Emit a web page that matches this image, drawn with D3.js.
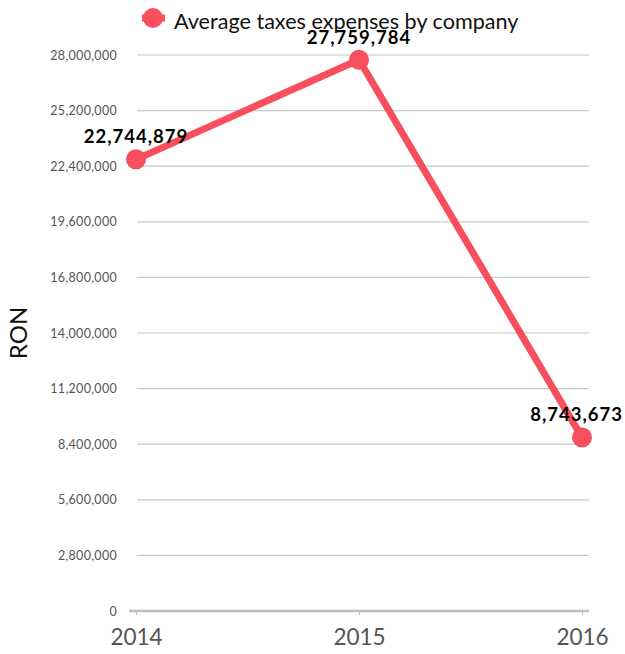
<!DOCTYPE html>
<html><head><meta charset="utf-8">
<script src="https://cdn.jsdelivr.net/npm/d3@7"></script>
<style>body{margin:0;background:#fff}svg{display:block}</style>
</head><body>
<svg id="c" width="625" height="654"></svg>
<script>
const years = ["2014", "2015", "2016"];
const values = [22744879, 27759784, 8743673];
const yTicks = [0, 2800000, 5600000, 8400000, 11200000, 14000000, 16800000, 19600000, 22400000, 25200000, 28000000];
const seriesName = "Average taxes expenses by company";
const yTitle = "RON";

const red = "#f74f5d";
const font = "Lato, 'Open Sans', sans-serif";
const svg = d3.select("#c");
const W = 625;

const x = d3.scalePoint().domain(years).range([136, 582]);
const y = d3.scaleLinear().domain([0, 28000000]).range([611, 55]);
const fmt = d3.format(",");

// grid
svg.append("g").selectAll("line").data(yTicks.filter(d => d > 0)).join("line")
  .attr("x1", 137).attr("x2", 589)
  .attr("y1", d => y(d)).attr("y2", d => y(d))
  .attr("stroke", "#c8c8c8").attr("stroke-width", 1.2);

// y axis labels
const ya = svg.append("g").attr("transform", "translate(129,0)")
  .call(d3.axisLeft(y).tickValues(yTicks).tickFormat(fmt).tickSize(0).tickPadding(12));
ya.select(".domain").remove();
ya.selectAll("text").attr("font-family", font).attr("font-size", 12.5)
  .attr("letter-spacing", 0.3).attr("fill", "#555");

// x axis
const xa = svg.append("g").attr("transform", "translate(0,611)")
  .call(d3.axisBottom(x).tickSize(4).tickPadding(14));
xa.select(".domain").attr("d", "M129,0H589").attr("stroke", "#bdbdbd").attr("stroke-width", 2.5);
xa.selectAll(".tick line").attr("stroke", "#bdbdbd");
xa.selectAll("text").attr("font-family", font).attr("font-size", 22.5).attr("fill", "#555");

// y title
svg.append("text").attr("transform", "translate(27,333) rotate(-90)")
  .attr("text-anchor", "middle").attr("font-family", font).attr("font-size", 24)
  .attr("fill", "#111").text(yTitle);

// line
const data = years.map((yr, i) => ({yr, v: values[i]}));
svg.append("path").datum(data)
  .attr("d", d3.line().x(d => x(d.yr)).y(d => y(d.v)))
  .attr("fill", "none").attr("stroke", red).attr("stroke-width", 7);
svg.append("g").selectAll("circle").data(data).join("circle")
  .attr("cx", d => x(d.yr)).attr("cy", d => y(d.v)).attr("r", 10).attr("fill", red);

// labels (clamped inside the view)
svg.append("g").selectAll("text").data(data).join("text")
  .attr("y", d => y(d.v) - 16)
  .attr("text-anchor", "start").attr("font-family", font).attr("font-weight", "bold")
  .attr("font-size", 18.5).attr("letter-spacing", 1).attr("fill", "#000").text(d => fmt(d.v))
  .each(function(d) {
    const w = this.getBBox().width;
    let left = x(d.yr) - w / 2;
    left = Math.min(left, W - 2 - w);
    d3.select(this).attr("x", left);
  });

// legend
const lg = svg.append("g");
lg.append("line").attr("x1", 142).attr("x2", 165).attr("y1", 18).attr("y2", 18)
  .attr("stroke", red).attr("stroke-width", 7);
lg.append("circle").attr("cx", 153).attr("cy", 18).attr("r", 10).attr("fill", red);
lg.append("text").attr("x", 174).attr("y", 29).attr("font-family", font)
  .attr("font-size", 21.6).attr("fill", "#111").text(seriesName);
</script>
</body></html>
